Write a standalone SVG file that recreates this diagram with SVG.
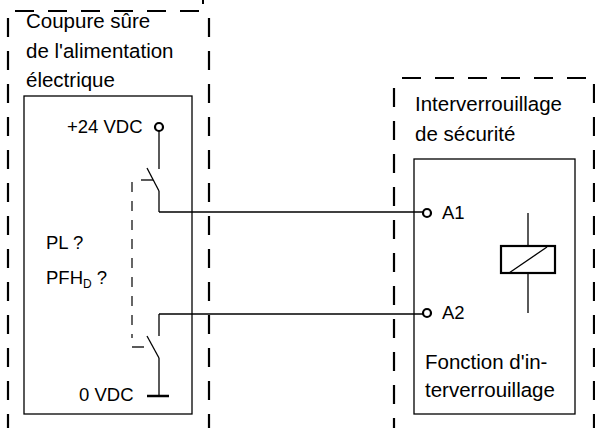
<svg xmlns="http://www.w3.org/2000/svg" width="595" height="428" viewBox="0 0 595 428">
<style>
.dash{fill:none;stroke:#000;stroke-width:2.2;stroke-dasharray:19 14}
.dl{fill:none;stroke:#000;stroke-width:1.2;stroke-dasharray:10 9}
.ln{fill:none;stroke:#000;stroke-width:1.3}
.term{fill:#fff;stroke:#000;stroke-width:2.2}
.t{font-family:"Liberation Sans",Arial,sans-serif;font-size:20.5px;fill:#000}
.s{font-family:"Liberation Sans",Arial,sans-serif;font-size:18.5px;fill:#000}
</style>
<rect width="595" height="428" fill="#fff"/>
<g id="node-supply">
<line class="dash" x1="15" y1="11" x2="201" y2="11"/>
<line class="dash" x1="8" y1="18" x2="8" y2="440"/>
<line class="dash" x1="209" y1="18" x2="209" y2="440"/>
<line class="ln" x1="203" y1="0" x2="203" y2="4" style="stroke-width:2"/>
<text class="t" x="26" y="28">Coupure sûre</text>
<text class="t" x="26" y="58">de l'alimentation</text>
<text class="t" x="26" y="87">électrique</text>
<rect class="ln" x="24" y="96" width="168" height="318"/>
<text class="s" x="67" y="133">+24 VDC</text>
<line class="ln" x1="159" y1="131" x2="159" y2="169"/>
<line class="ln" x1="147" y1="168" x2="159" y2="191"/>
<line class="ln" x1="141" y1="180" x2="153" y2="180"/>
<line class="ln" x1="159" y1="191" x2="159" y2="212"/>
<circle class="term" cx="159" cy="127" r="4"/>
<line class="dl" x1="132" y1="182" x2="132" y2="338"/>
<text class="s" x="46" y="249">PL ?</text>
<text class="s" x="46" y="284">PFH<tspan font-size="12" dy="4">D</tspan><tspan dy="-4"> ?</tspan></text>
<line class="ln" x1="159" y1="314" x2="159" y2="336"/>
<line class="ln" x1="147" y1="336" x2="159" y2="358"/>
<line class="ln" x1="132" y1="347" x2="144" y2="347"/>
<line class="ln" x1="159" y1="358" x2="159" y2="396"/>
<line class="ln" x1="147" y1="396" x2="169" y2="396" style="stroke-width:2.5"/>
<text class="s" x="79" y="401">0 VDC</text>
</g>
<g id="node-interlock">
<line class="dash" x1="402" y1="78" x2="588" y2="78"/>
<line class="dash" x1="394" y1="88" x2="394" y2="440"/>
<line class="dash" x1="594" y1="84" x2="594" y2="440"/>
<text class="t" x="415" y="111">Interverrouillage</text>
<text class="t" x="415" y="141">de sécurité</text>
<rect class="ln" x="414" y="159" width="161" height="255"/>
<line class="ln" x1="528" y1="213" x2="528" y2="246"/>
<line class="ln" x1="528" y1="273" x2="528" y2="313"/>
<rect x="501" y="246" width="54" height="27" fill="none" stroke="#000" stroke-width="2.2"/>
<line class="ln" x1="509" y1="273" x2="547" y2="247"/>
<text class="s" x="442" y="219">A1</text>
<text class="s" x="442" y="319">A2</text>
<text class="t" x="425" y="369">Fonction d'in-</text>
<text class="t" x="425" y="397">terverrouillage</text>
</g>
<g id="connectors">
<polyline class="ln" points="159,212 423,212"/>
<polyline class="ln" points="159,314 423,314"/>
</g>
<g id="terminals">
<circle class="term" cx="427" cy="213" r="4"/>
<circle class="term" cx="427" cy="313" r="4"/>
</g>
</svg>
